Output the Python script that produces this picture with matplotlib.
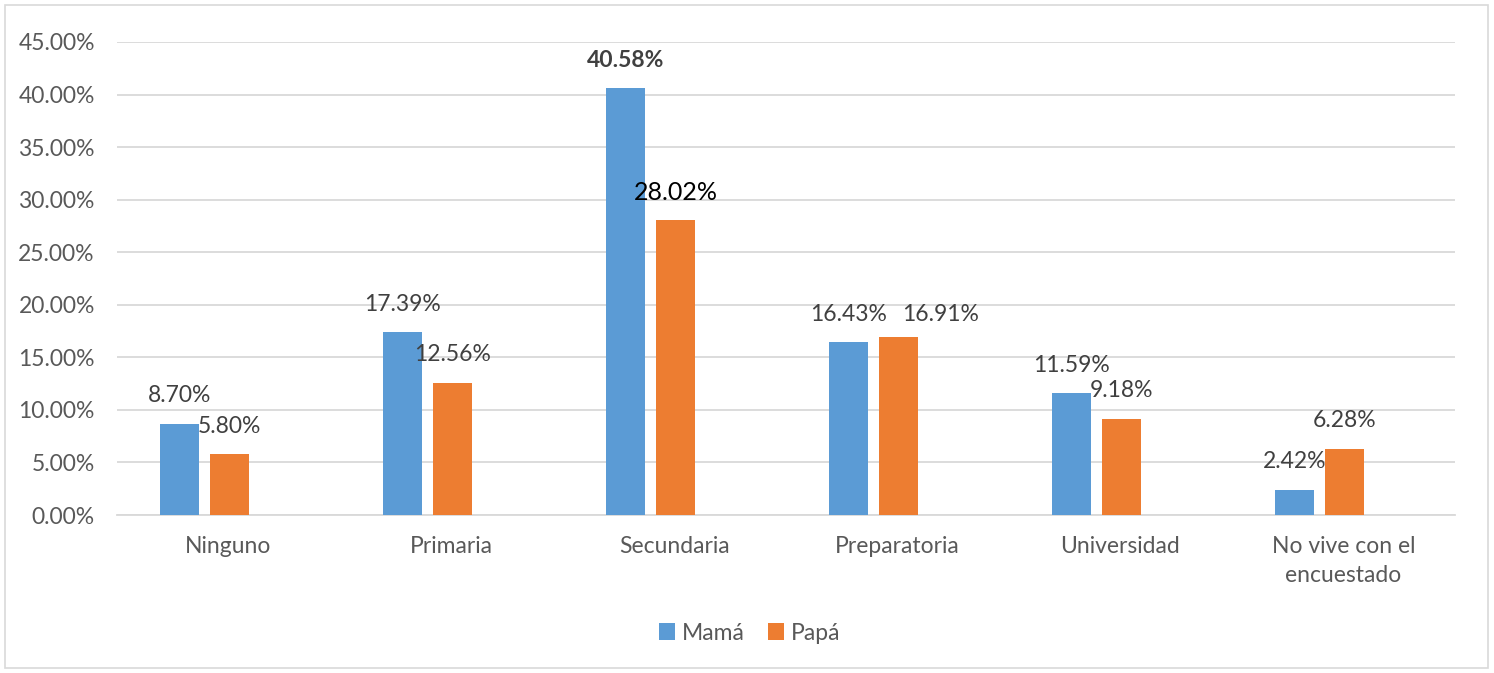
import matplotlib
matplotlib.use("Agg")
import matplotlib.pyplot as plt
from matplotlib.patches import Rectangle
import numpy as np

categories = ["Ninguno", "Primaria", "Secundaria", "Preparatoria", "Universidad", "No vive con el\nencuestado"]
mama = [8.70, 17.39, 40.58, 16.43, 11.59, 2.42]
papa = [5.80, 12.56, 28.02, 16.91, 9.18, 6.28]
series_names = ["Mamá", "Papá"]
yticks = [0, 5, 10, 15, 20, 25, 30, 35, 40, 45]

plt.rcParams['font.family'] = ['Lato', 'DejaVu Sans']
FS = 16.5

W, H = 1494, 673
fig = plt.figure(figsize=(W / 100, H / 100), dpi=100)
fig.patch.set_facecolor("white")
fig.add_artist(Rectangle((5 / W, 5 / H), (1488 - 5) / W, (668 - 5) / H, transform=fig.transFigure,
                         fill=False, edgecolor="#d9d9d9", linewidth=1.2))

left, right, top, bottom = 117, 1455, 42, 515
ax = fig.add_axes([left / W, 1 - bottom / H, (right - left) / W, (bottom - top) / H])

x = np.arange(len(categories))
slot_px = (right - left) / len(categories)
bw = 39 / slot_px
off_m = -49 / slot_px
off_p = 1 / slot_px
c_m, c_p = "#5B9BD5", "#ED7D31"
bm = ax.bar(x + off_m, mama, width=bw, color=c_m, label=series_names[0], zorder=3)
bp = ax.bar(x + off_p, papa, width=bw, color=c_p, label=series_names[1], zorder=3)

ax.set_xlim(-0.5, len(categories) - 0.5)
ax.set_ylim(0, 45)
ax.set_yticks(yticks)
ax.set_yticklabels([f"{v:.2f}%" for v in yticks], fontsize=FS, color="#595959")
ax.set_xticks(x)
ax.set_xticklabels(categories, fontsize=FS, color="#595959", linespacing=1.5)
ax.tick_params(axis="both", length=0)
ax.tick_params(axis="y", pad=16)
ax.tick_params(axis="x", pad=15)
ax.grid(axis="y", color="#d9d9d9", linewidth=1.3, zorder=0)
ax.set_axisbelow(True)
for s in ["top", "right", "left"]:
    ax.spines[s].set_visible(False)
ax.spines["bottom"].set_color("#d9d9d9")
ax.spines["bottom"].set_linewidth(1.3)

label_shift = {("p", 3): (42, -5)}
special = {("m", 2): dict(fontweight="bold"), ("p", 2): dict(color="black", fontsize=18)}
for key, vals, offs in (("m", mama, off_m), ("p", papa, off_p)):
    for i, v in enumerate(vals):
        dx, dy = label_shift.get((key, i), (0, 0))
        kw = dict(color="#404040", fontsize=FS)
        kw.update(special.get((key, i), {}))
        ax.annotate(f"{v:.2f}%", (i + offs, v), xytext=(dx, 28 + dy), textcoords="offset pixels",
                    ha="center", va="center", **kw)

leg = fig.legend(handles=[bm, bp], labels=series_names, loc="center", bbox_to_anchor=(750 / W, 1 - 633 / H),
                 ncol=2, frameon=False, fontsize=FS, handlelength=0.7, handleheight=0.7,
                 handletextpad=0.3, columnspacing=1.0)
for t in leg.get_texts():
    t.set_color("#595959")

fig.savefig("out.png", dpi=100, facecolor="white")
